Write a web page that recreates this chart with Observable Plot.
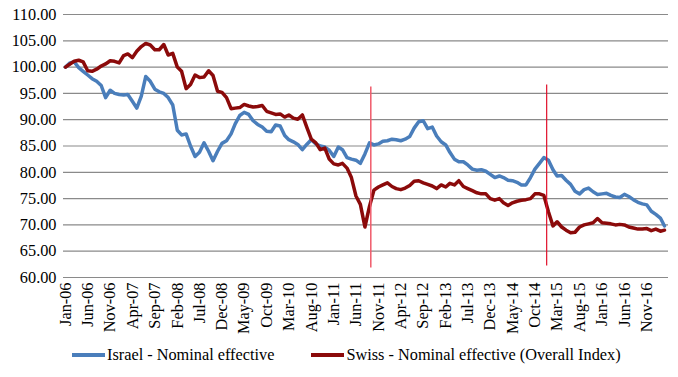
<!DOCTYPE html>
<html>
<head>
<meta charset="utf-8">
<script src="https://cdn.jsdelivr.net/npm/d3@7"></script>
<script src="https://cdn.jsdelivr.net/npm/@observablehq/plot@0.6"></script>
<style>
  html, body { margin: 0; padding: 0; background: #fff; }
  #chart { width: 678px; }
  .legend { display: flex; justify-content: flex-start; align-items: center; padding-left: 72px; height: 40px; font-family: "Liberation Serif", "Times New Roman", serif; font-size: 16.3px; color: #000; }
  .legend .item { display: flex; align-items: center; }
  .legend .sw { width: 33px; height: 4px; margin-right: 2px; }
</style>
</head>
<body>
<div id="chart"></div>
<script>
// Monthly, Jan-2006 onwards
const startYear = 2006;
const israel = [
  100.0, 100.8, 101.0, 99.9, 99.2, 98.5, 97.8, 97.3, 96.5, 94.2,
  95.6, 95.0, 94.8, 94.7, 94.8, 93.5, 92.2, 94.5, 98.2, 97.3,
  95.8, 95.3, 95.0, 94.2, 92.8, 88.0, 87.1, 87.3, 85.0, 83.0,
  83.8, 85.6, 84.0, 82.2, 84.0, 85.5, 86.0, 87.3, 89.2, 90.8,
  91.4, 91.0, 89.8, 89.1, 88.6, 87.8, 87.7, 89.0, 88.8, 87.0,
  86.2, 85.8, 85.3, 84.3, 85.3, 86.2, 85.4, 85.0, 84.8, 84.2,
  83.0, 84.8, 84.3, 82.8, 82.5, 82.3, 81.7, 83.5, 85.6, 85.2,
  85.4, 85.9, 86.0, 86.3, 86.2, 86.0, 86.3, 86.8, 88.4, 89.6,
  89.8, 88.3, 88.6, 86.9, 85.8, 85.2, 83.8, 82.5, 82.0, 82.0,
  81.4, 80.6, 80.4, 80.5, 80.2, 79.6, 79.0, 79.3, 79.0, 78.5,
  78.4, 78.1, 77.6, 77.6, 79.0, 80.6, 81.7, 82.8, 82.3, 80.5,
  79.3, 79.4, 78.5, 77.7, 76.4, 75.9, 76.7, 77.0, 76.3, 75.8,
  75.9, 76.0, 75.6, 75.3, 75.2, 75.8, 75.4, 74.8, 74.3, 74.0,
  73.8, 72.6, 72.0, 71.3, 69.8
];
const swiss = [
  100.0, 100.6, 101.1, 101.3, 101.0, 99.3, 99.2, 99.6, 100.2, 100.6,
  101.2, 101.1, 100.8, 102.2, 102.5, 101.8, 103.0, 103.9, 104.5, 104.2,
  103.3, 103.3, 104.3, 102.3, 102.6, 100.0, 99.2, 95.9, 96.7, 98.5,
  98.0, 98.1, 99.3, 98.4, 95.4, 95.2, 94.2, 92.1, 92.2, 92.3,
  92.9, 92.6, 92.4, 92.5, 92.7, 91.6, 91.3, 91.0, 91.1, 90.5,
  90.9, 90.3, 90.1, 90.9, 88.6, 86.3, 85.6, 84.3, 84.6, 82.5,
  81.6, 81.4, 81.7, 80.8, 79.0, 75.5, 73.9, 69.6, 73.5, 76.6,
  77.2, 77.6, 78.0, 77.3, 76.9, 76.7, 77.0, 77.5, 78.3, 78.4,
  78.0, 77.7, 77.4, 76.9, 77.6, 77.2, 77.9, 77.6, 78.4, 77.3,
  76.9, 76.5, 76.1, 75.9, 75.9, 75.0, 74.7, 75.0, 74.2, 73.7,
  74.2, 74.5, 74.7, 74.8, 75.0, 75.9, 75.9, 75.6, 72.5, 69.8,
  70.6, 69.6, 69.0, 68.5, 68.6, 69.6, 70.0, 70.2, 70.4, 71.2,
  70.4, 70.3, 70.2, 70.0, 70.1, 70.0, 69.6, 69.4, 69.2, 69.2,
  69.3, 68.9, 69.2, 68.8, 69.0
];
const seriesNames = ["Israel - Nominal effective", "Swiss - Nominal effective (Overall Index)"];
const seriesColors = ["#4a7ebb", "#8b0a0a"];
const xTickLabels = ["Jan-06","Jun-06","Nov-06","Apr-07","Sep-07","Feb-08","Jul-08","Dec-08","May-09","Oct-09","Mar-10","Aug-10","Jan-11","Jun-11","Nov-11","Apr-12","Sep-12","Feb-13","Jul-13","Dec-13","May-14","Oct-14","Mar-15","Aug-15","Jan-16","Jun-16","Nov-16"];
const yTicks = [60, 65, 70, 75, 80, 85, 90, 95, 100, 105, 110];
// event markers (date, top value, bottom value, colour)
const eventDates = ["2011-09-10", "2014-12-20"];
const eventTop = [96.2, 96.6];
const eventBottom = [61.8, 62.2];
const eventColors = ["#f05a6a", "#e0102a"];
const eventWidths = [1.5, 1.2];

const monthDate = (i) => new Date(Date.UTC(startYear, i, 1));
const rows = [];
israel.forEach((v, i) => rows.push({date: monthDate(i), value: v, series: seriesNames[0]}));
swiss.forEach((v, i) => rows.push({date: monthDate(i), value: v, series: seriesNames[1]}));
const tickDates = xTickLabels.map((_, i) => monthDate(i * 5));
const tickMap = new Map(tickDates.map((d, i) => [+d, xTickLabels[i]]));
const events = eventDates.map((d, i) => ({date: new Date(d + "T00:00:00Z"), y1: eventBottom[i], y2: eventTop[i], color: eventColors[i], w: eventWidths[i]}));

const chart = Plot.plot({
  width: 678,
  height: 335,
  marginTop: 14,
  marginLeft: 63,
  marginRight: 10,
  marginBottom: 58,
  style: {fontFamily: "'Liberation Serif', 'Times New Roman', serif", fontSize: "16.3px", color: "#000", background: "#fff", overflow: "visible"},
  x: {type: "utc", domain: [monthDate(0), monthDate(israel.length - 1)], insetLeft: 2, insetRight: 4},
  y: {domain: [60, 110]},
  marks: [
    Plot.ruleY(yTicks, {stroke: "#8a8a8a", strokeWidth: 1.2}),
    Plot.axisY({ticks: yTicks, tickSize: 0, tickPadding: 7, tickFormat: d3.format(".2f"), label: null, fontSize: 16.3}),
    Plot.axisX({ticks: tickDates, tickSize: 0, tickPadding: 5, tickRotate: -90, tickFormat: d => tickMap.get(+d), label: null, fontSize: 16.3}),
    Plot.lineY(rows.filter(d => d.series === seriesNames[0]), {x: "date", y: "value", stroke: seriesColors[0], strokeWidth: 3.5, strokeLinejoin: "round"}),
    Plot.lineY(rows.filter(d => d.series === seriesNames[1]), {x: "date", y: "value", stroke: seriesColors[1], strokeWidth: 3.5, strokeLinejoin: "round"}),
    Plot.ruleX(events, {x: "date", y1: "y1", y2: "y2", stroke: "color", strokeWidth: "w"})
  ]
});
document.getElementById("chart").appendChild(chart);

const legend = document.createElement("div");
legend.className = "legend";
seriesNames.forEach((name, i) => {
  const item = document.createElement("div");
  item.className = "item";
  if (i > 0) item.style.marginLeft = "37px";
  const sw = document.createElement("div");
  sw.className = "sw";
  sw.style.background = seriesColors[i];
  const t = document.createElement("span");
  t.textContent = name;
  item.appendChild(sw);
  item.appendChild(t);
  legend.appendChild(item);
});
document.getElementById("chart").appendChild(legend);
</script>
</body>
</html>
